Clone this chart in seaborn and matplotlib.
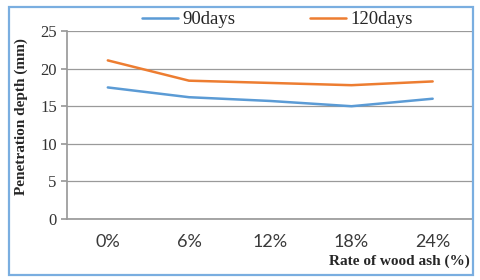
import seaborn as sns
import pandas as pd
import matplotlib.pyplot as plt
from matplotlib.patches import Rectangle

# values
ash_rates = ["0%", "6%", "12%", "18%", "24%"]
depth_90days = [17.5, 16.2, 15.7, 15.0, 16.0]
depth_120days = [21.1, 18.4, 18.1, 17.8, 18.3]

sns.set_theme(style="white")
plt.rcParams['font.family'] = ['Liberation Serif', 'DejaVu Serif']

df = pd.DataFrame({
    "rate": ash_rates * 2,
    "depth": depth_90days + depth_120days,
    "series": ["90days"] * len(ash_rates) + ["120days"] * len(ash_rates),
})

fig = plt.figure(figsize=(4.8, 2.8), dpi=100)
ax = fig.add_axes([0.140, 0.218, 0.846, 0.671])

sns.lineplot(data=df, x="rate", y="depth", hue="series",
             palette={"90days": "#5b9bd5", "120days": "#ed7d31"},
             linewidth=1.8, sort=False, ax=ax)

ax.set_xlim(-0.5, 4.5)
ax.set_ylim(0, 25)
ax.set_yticks([0, 5, 10, 15, 20, 25])
ax.yaxis.grid(True, color="#9a9a9a", linewidth=0.9)
for s in ["top", "right"]:
    ax.spines[s].set_visible(False)
ax.spines["left"].set_color("#9a9a9a")
ax.spines["bottom"].set_color("#9a9a9a")
ax.set_xticks([-0.5, 0.5, 1.5, 2.5, 3.5, 4.5], minor=True)
ax.tick_params(axis="x", which="major", length=0, pad=11, labelsize=13, labelcolor="#3a3a3a")
ax.tick_params(axis="x", which="minor", length=4, color="#9a9a9a", direction="out")
ax.tick_params(axis="y", length=4, color="#9a9a9a", labelsize=12, labelcolor="#333333", left=True)
for lab in ax.get_xticklabels():
    lab.set_family(["Lato", "DejaVu Sans"])

ax.set_xlabel("")
ax.set_ylabel("")
fig.text(0.045, 0.584, "Penetration depth (mm)", rotation=90, ha="center", va="center",
         fontsize=11, fontweight="bold")
fig.text(0.979, 0.066, "Rate of wood ash (%)", ha="right", va="center",
         fontsize=11, fontweight="bold")

ax.legend(title=None, loc="center", bbox_to_anchor=(0.578, 0.93),
          bbox_transform=fig.transFigure, ncol=2, frameon=False,
          fontsize=13.5, handlelength=1.9, columnspacing=4.0, handletextpad=0.25)

fig.patches.append(Rectangle((0.019, 0.018), 0.966, 0.957, transform=fig.transFigure,
                             fill=False, edgecolor="#7aaee0", linewidth=1.6))

fig.savefig("out.png", dpi=100)
